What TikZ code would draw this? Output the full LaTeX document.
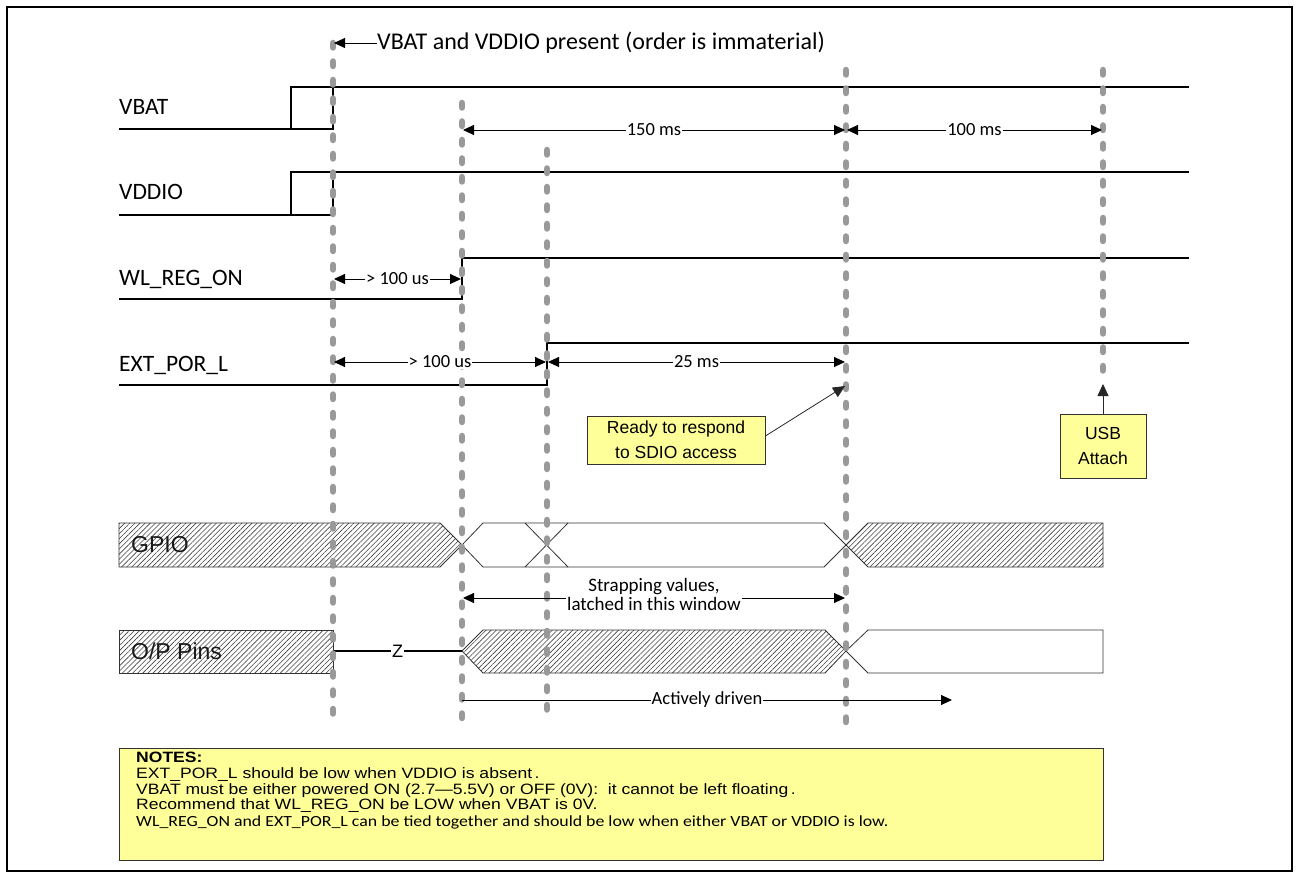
\documentclass[tikz,border=0pt]{standalone}
\usepackage{fontspec}
\setmainfont{Carlito}
\newfontfamily\arialf{Liberation Sans}
\newfontfamily\arialw[FakeStretch=1.17]{Liberation Sans}
\newfontfamily\caliw[FakeStretch=1.15]{Carlito}
\usetikzlibrary{arrows.meta,patterns.meta}
\definecolor{noteyellow}{HTML}{FFFF99}
\begin{document}
\begin{tikzpicture}[x=1pt,y=-1pt,
  sig/.style={line width=2pt,black,line join=miter},
  guide/.style={draw=black!40,line width=6.5pt,line cap=round,dash pattern=on 4.5pt off 14pt},
  dim/.style={line width=0.9pt,{Triangle[length=11pt,width=10pt]}-{Triangle[length=11pt,width=10pt]}},
  sdim/.style={line width=0.9pt,-{Triangle[length=11pt,width=10pt]}},
  lbl/.style={font=\fontsize{23.5}{27}\selectfont,anchor=base west,inner sep=0pt},
  dlbl/.style={font=\fontsize{18.5}{20}\selectfont,fill=white,inner sep=1pt},
  hatch/.style={pattern={Lines[angle=45,distance=3.6pt,line width=0.6pt]},pattern color=black!75,draw=black!80,line width=0.8pt},
  bus/.style={draw=black!80,line width=0.8pt},
  callout/.style={draw=black!80,line width=0.8pt,fill=noteyellow,font=\arialf\fontsize{17.5}{25}\selectfont,align=center,inner sep=0pt},
  cline/.style={draw=black!85,line width=0.8pt,-{Triangle[length=12pt,width=11pt]}},
  busl/.style={font=\arialf\fontsize{23}{27}\selectfont,text=black!90,anchor=west,inner sep=0pt},
  notel/.style={font=\arialw\fontsize{15}{15}\selectfont,anchor=base west,inner sep=0pt}
]
\useasboundingbox (0,0) rectangle (1299,877);
% frame
\draw[line width=1.5pt] (7,7) rectangle (1292,871);

% signal labels
\node[lbl] (lvbat) at (119,115) {VBAT};
\node[lbl] (lvddio) at (119,200) {VDDIO};
\node[lbl] (lwl) at (119,286) {WL\_REG\_ON};
\node[lbl] (lext) at (119,371) {EXT\_POR\_L};

% signals
\draw[sig] (119,129) -- (333,129) -- (333,87);
\draw[sig] (291,129) -- (291,87) -- (1189,87);
\draw[sig] (119,215) -- (333,215) -- (333,172);
\draw[sig] (291,215) -- (291,172) -- (1189,172);
\draw[sig] (119,299) -- (462,299) -- (462,258) -- (1189,258);
\draw[sig] (119,385) -- (547,385) -- (547,343) -- (1189,343);

% buses: GPIO
\draw[hatch] (119,523) -- (440,523) -- (462,545) -- (440,567) -- (119,567) -- cycle;
\draw[bus] (462,545) -- (483,523) -- (824,523) -- (846,545) -- (824,567) -- (483,567) -- cycle;
\draw[bus] (525,523) -- (568,567);
\draw[bus] (525,567) -- (568,523);
\draw[hatch] (846,545) -- (868,523) -- (1103,523) -- (1103,567) -- (868,567) -- cycle;
\node[busl] (lgpio) at (131,545) {GPIO};
% O/P pins
\draw[hatch] (119,630) rectangle (333,673);
\coordinate (zl) at (333,651);
\coordinate (zr) at (462,651);
\draw[line width=1.5pt] (zl) -- (zr) node[midway,fill=white,inner sep=1pt,font=\arialf\fontsize{18}{20}\selectfont] (zlab) {Z};
\draw[hatch] (462,651) -- (483,630) -- (825,630) -- (846,651) -- (825,673) -- (483,673) -- cycle;
\draw[bus] (846,651) -- (868,630) -- (1103,630) -- (1103,673) -- (868,673) -- cycle;
\node[busl] (lop) at (131,651) {O/P Pins};

% guides
\coordinate (g1t) at (333,43);  \coordinate (g1b) at (333,722);
\coordinate (g2t) at (462,103); \coordinate (g2b) at (462,722);
\coordinate (g3t) at (547,150); \coordinate (g3b) at (547,718);
\coordinate (g4t) at (846,70);  \coordinate (g4b) at (846,725);
\coordinate (g5t) at (1103,70); \coordinate (g5b) at (1103,383);
\draw[guide] (g1t) -- (g1b);
\draw[guide] (g2t) -- (g2b);
\draw[guide] (g3t) -- (g3b);
\draw[guide] (g4t) -- (g4b);
\draw[guide] (g5t) -- (g5b);

% top label
\node[font=\fontsize{24}{28}\selectfont,anchor=west,inner sep=0pt] (top) at (377,43) {VBAT and VDDIO present (order is immaterial)};
\coordinate (toptip) at (334,43);
\draw[sdim] (top.west) -- (toptip);

% dimension arrows
\coordinate (a150l) at (463,130); \coordinate (a150r) at (845,130);
\draw[dim] (a150l) -- (a150r) node[midway,dlbl] (t150) {150 ms};
\coordinate (a100l) at (847,130); \coordinate (a100r) at (1102,130);
\draw[dim] (a100l) -- (a100r) node[midway,dlbl] (t100) {100 ms};
\coordinate (w1l) at (334,279); \coordinate (w1r) at (461,279);
\draw[dim] (w1l) -- (w1r) node[midway,dlbl] (tw1) {> 100 us};
\coordinate (e1l) at (334,362); \coordinate (e1r) at (546,362);
\draw[dim] (e1l) -- (e1r) node[midway,dlbl] (te1) {> 100 us};
\coordinate (e2l) at (548,362); \coordinate (e2r) at (845,362);
\draw[dim] (e2l) -- (e2r) node[midway,dlbl] (te2) {25 ms};
\coordinate (sl) at (463,598); \coordinate (sr) at (845,598);
\draw[dim] (sl) -- (sr);
\node[font=\fontsize{19}{19}\selectfont,fill=white,inner sep=1pt,align=center] (strap) at (654,594) {Strapping values,\\latched in this window};
\coordinate (adl) at (462,700); \coordinate (adr) at (952,700);
\draw[sdim] (adl) -- (adr) node[midway,dlbl] (tad) {Actively driven};

% callouts
\node[callout,minimum width=178pt,minimum height=48pt] (ready) at (676,440) {Ready to respond\\to SDIO access};
\coordinate (readytip) at (845,386);
\draw[cline] ([yshift=4pt]ready.east) -- (readytip);
\node[callout,minimum width=86pt,minimum height=64pt] (usb) at (1103,446) {USB\\Attach};
\coordinate (usbtip) at (1103,384);
\draw[cline] (usb.north) -- (usbtip);

% notes
\node[draw=black!80,line width=0.8pt,fill=noteyellow,minimum width=984pt,minimum height=112pt,anchor=north west,inner sep=0pt] (notes) at (119,748) {};
\node[notel,font=\arialw\bfseries\fontsize{15}{15}\selectfont] (n1) at (136,762) {NOTES:};
\node[notel] (n2) at (136,778) {EXT\_POR\_L should be low when VDDIO is absent\,.};
\node[notel] (n3) at (136,794) {VBAT must be either powered ON (2.7—5.5V) or OFF (0V):\ \ it cannot be left floating\,.};
\node[notel] (n4) at (136,809) {Recommend that WL\_REG\_ON be LOW when VBAT is 0V.};
\node[notel,font=\caliw\fontsize{15.5}{16}\selectfont] (n5) at (136,826) {WL\_REG\_ON and EXT\_POR\_L can be tied together and should be low when either VBAT or VDDIO is low.};
\end{tikzpicture}
\end{document}
